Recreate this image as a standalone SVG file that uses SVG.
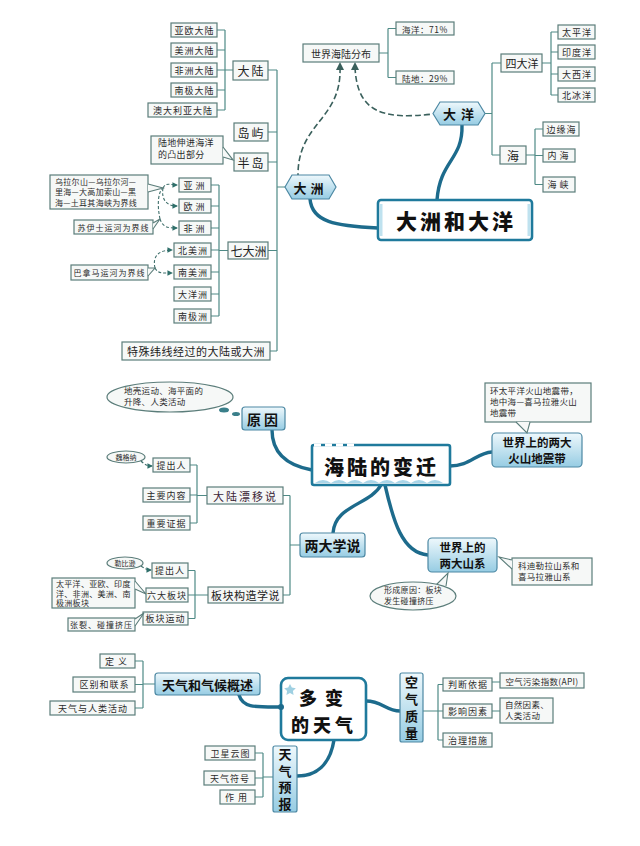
<svg xmlns="http://www.w3.org/2000/svg" width="640" height="846" viewBox="0 0 640 846">
<defs>
<linearGradient id="gb" x1="0" y1="0" x2="0" y2="1">
<stop offset="0" stop-color="#eef8fc"/>
<stop offset="1" stop-color="#96cce3"/>
</linearGradient>
<marker id="ah" viewBox="0 0 6 6" refX="5" refY="3" markerWidth="5" markerHeight="5" orient="auto">
<path d="M0,0 L6,3 L0,6 z" fill="#2f6f6a"/>
</marker>
<style>
.b{fill:#f6f8f7;stroke:#5b7d7a;stroke-width:1.2}
.bl{fill:url(#gb);stroke:#4c88a3;stroke-width:1.2}
.ttl{fill:#fff;stroke:#1f7a9c;stroke-width:2.6}
.t{font-family:"Noto Sans CJK SC","Noto Sans",sans-serif;font-size:9px;fill:#2b2b2b;text-anchor:middle;dominant-baseline:central;letter-spacing:1px}
.s{font-family:"Noto Sans CJK SC","Noto Sans",sans-serif;font-size:8px;fill:#2b2b2b;letter-spacing:0.3px}
.m{font-family:"Noto Sans CJK SC","Noto Sans",sans-serif;font-size:12px;fill:#222;text-anchor:middle;dominant-baseline:central;letter-spacing:2px}
.h{font-family:"Noto Sans CJK SC","Noto Sans",sans-serif;font-size:13px;font-weight:700;fill:#111;text-anchor:middle;dominant-baseline:central}
.v{font-family:"Noto Sans CJK SC","Noto Sans",sans-serif;font-size:13px;font-weight:700;fill:#111;text-anchor:middle;writing-mode:vertical-rl;letter-spacing:3.5px}
.big{font-family:"Noto Sans CJK SC","Noto Sans",sans-serif;font-size:21px;font-weight:900;fill:#111;text-anchor:middle;dominant-baseline:central;letter-spacing:3px}
.ln{fill:none;stroke:#4f8a86;stroke-width:1.2}
.dl{fill:none;stroke:#3f6f6b;stroke-width:1.1;stroke-dasharray:3 2}
.dl2{fill:none;stroke:#3a605c;stroke-width:1.6;stroke-dasharray:6 3}
.th{fill:none;stroke:#1d6b8c;stroke-width:3.4;stroke-linecap:round}
</style>
</defs>
<rect width="640" height="846" fill="#ffffff"/>

<g id="connectors">
<path class="ln" d="M217,30H225M217,50H225M217,70H225M217,90H225M217,110H225M225,30V110M225,70H233"/>
<path class="ln" d="M277,70V351M268,70H277M268,132H277M268,162H277M268,250.5H277M270,351H277M277,187H285"/>
<path class="ln" d="M211,185H219M211,206H219M211,228H219M211,250H219M211,272H219M211,294H219M211,316H219M219,185V316M219,250.5H228"/>
<path class="ln" d="M379,53H388M388,28.5V77.5M388,28.5H396M388,77.5H396"/>
<path class="ln" d="M485,113.5H492M492,63V155M492,63H501M492,155H500"/>
<path class="ln" d="M542,63H551M551,32V95M551,32H558M551,52H558M551,74H558M551,95H558"/>
<path class="ln" d="M526,155H535M535,129V184.5M535,129H543M535,155.5H543M535,184.5H543"/>
<path class="dl2" d="M340,67 C342,120 298,122 298,175"/>
<path class="dl2" d="M355,67 C357,112 382,120 433,114"/>
<path d="M336,70 L340,62 L344,70 z M351,70 L355,62 L359,70 z" fill="#3a605c"/>
<path class="th" d="M310,199 C312,222 335,226 378,228"/>
<path class="th" d="M462,125 C463,160 440,160 437,200"/>
<path class="dl" d="M163,188 C166,182 170,185 177,185" marker-end="url(#ah)"/>
<path class="dl" d="M163,188 C161,200 167,206 177,206" marker-end="url(#ah)"/>
<path class="dl" d="M160,219 C157,205 158,192 163,188"/>
<path class="dl" d="M160,219 C163,228 169,228 177,228" marker-end="url(#ah)"/>
<path class="dl" d="M155,268 C152,255 160,250 172,250" marker-end="url(#ah)"/>
<path class="dl" d="M155,268 C158,274 164,273 172,273" marker-end="url(#ah)"/>

<path class="th" d="M272,430 C272,455 290,466 312,470"/>
<path class="th" d="M450,466 C470,466 476,453 492,452"/>
<path class="th" d="M381,485 C370,505 335,505 333,533"/>
<path class="th" d="M385,485 C393,520 402,553 428,555"/>
<path class="ln" d="M190,465H197M190,495H197M190,523H197M197,465V523M197,495.5H207"/>
<path class="ln" d="M283,495.5H290M290,495.5V595M290,545H300M283,595H290"/>
<path class="ln" d="M188,570.5H195M188,595H195M188,618.5H195M195,570.5V618.5M195,595H208"/>
<path class="dl" d="M141,461 C145,465 148,466 152,466" marker-end="url(#ah)"/>
<path class="dl" d="M141,566 C145,569 148,570 151,570" marker-end="url(#ah)"/>

<path class="ln" d="M135,661H143M135,684.5H143M135,708H143M143,661V708M143,684H155"/>
<path class="th" d="M239,695 C243,708 255,707 281,707"/>
<path class="th" d="M366,701 C382,701 386,711 400,711"/>
<path class="th" d="M334,740 C330,765 316,776 297,776"/>
<path class="ln" d="M255,753H263M255,778H263M255,797H263M263,753V797M263,777H273"/>
<path class="ln" d="M423,711H438M438,684.5V740M438,684.5H443M438,711H443M438,740H443"/>
<path class="ln" d="M492,682H500M492,711H500"/>
</g>

<g id="n-dazhouhedayang">
<rect class="ttl" x="378" y="200" width="154" height="40" rx="3"/>
<path d="M381,204 v32 M529,204 v32" stroke="#bfe2ef" stroke-width="3"/>
<text class="big" x="456" y="220">大洲和大洋</text>
</g>
<g id="n-dazhou">
<polygon class="bl" points="285,187 292,175 329,175 336,187 329,199 292,199"/>
<text class="h" x="310.5" y="187" style="letter-spacing:4px">大洲</text>
</g>
<g id="n-dayang">
<polygon class="bl" points="433,113.5 440,102 478,102 485,113.5 478,125 440,125"/>
<text class="h" x="461" y="113.5" style="letter-spacing:5px">大洋</text>
</g>
<g id="n-dalu"><rect class="b" x="233" y="61" width="35" height="19"/><text class="m" x="251.5" y="70.5">大陆</text></g>
<g id="n-yaoudalu"><rect class="b" x="171" y="23" width="46" height="14"/><text class="t" x="194.5" y="30">亚欧大陆</text></g>
<g id="n-meizhoudalu"><rect class="b" x="171" y="43" width="46" height="14"/><text class="t" x="194.5" y="50">美洲大陆</text></g>
<g id="n-feizhoudalu"><rect class="b" x="171" y="63" width="46" height="14"/><text class="t" x="194.5" y="70">非洲大陆</text></g>
<g id="n-nanjidalu"><rect class="b" x="171" y="83" width="46" height="14"/><text class="t" x="194.5" y="90">南极大陆</text></g>
<g id="n-aodaliyadalu"><rect class="b" x="148" y="103" width="69" height="14"/><text class="t" x="183" y="110">澳大利亚大陆</text></g>
<g id="n-daoyu"><rect class="b" x="234" y="123" width="34" height="18"/><text class="m" x="251.5" y="132">岛屿</text></g>
<g id="n-bandao"><rect class="b" x="234" y="153" width="34" height="18"/><text class="m" x="251.5" y="162">半岛</text></g>
<g id="n-bandao-note">
<rect class="b" x="151" y="136" width="72" height="28"/>
<polyline points="223,147 233,160 223,157" fill="#f6f8f7" stroke="#5b7d7a" stroke-width="1.2"/>
<text class="s" style="font-size:9px"><tspan x="158" y="146">陆地伸进海洋</tspan><tspan x="158" y="158">的凸出部分</tspan></text>
</g>
<g id="n-qidazhou"><rect class="b" x="228" y="242" width="40" height="17"/><text class="m" x="248.5" y="250.5" style="letter-spacing:0">七大洲</text></g>
<g id="n-yazhou"><rect class="b" x="179" y="178" width="32" height="14"/><text class="t" x="195.5" y="185" style="letter-spacing:3px">亚洲</text></g>
<g id="n-ouzhou"><rect class="b" x="179" y="199" width="32" height="14"/><text class="t" x="195.5" y="206" style="letter-spacing:3px">欧洲</text></g>
<g id="n-feizhou"><rect class="b" x="179" y="221" width="32" height="14"/><text class="t" x="195.5" y="228" style="letter-spacing:3px">非洲</text></g>
<g id="n-beimeizhou"><rect class="b" x="174" y="243" width="37" height="14"/><text class="t" x="193" y="250">北美洲</text></g>
<g id="n-nanmeizhou"><rect class="b" x="174" y="265" width="37" height="14"/><text class="t" x="193" y="272">南美洲</text></g>
<g id="n-dayangzhou"><rect class="b" x="174" y="287" width="37" height="14"/><text class="t" x="193" y="294">大洋洲</text></g>
<g id="n-nanjizhou"><rect class="b" x="174" y="309" width="37" height="14"/><text class="t" x="193" y="316">南极洲</text></g>
<g id="n-teshuweixian"><rect class="b" x="122" y="342" width="148" height="18"/><text class="m" x="196" y="351" style="font-size:11px;letter-spacing:0.5px">特殊纬线经过的大陆或大洲</text></g>
<g id="n-ouyajiexian">
<rect class="b" x="50" y="175" width="98" height="34"/>
<polyline points="148,184 163,188 148,192" fill="#f6f8f7" stroke="#5b7d7a" stroke-width="1.1"/>
<text class="s"><tspan x="55" y="184.5">乌拉尔山—乌拉尔河—</tspan><tspan x="55" y="195">里海—大高加索山—黑</tspan><tspan x="55" y="205.5">海—土耳其海峡为界线</tspan></text>
</g>
<g id="n-suyishi">
<rect class="b" x="74" y="220" width="79" height="14"/>
<polyline points="153,223 160,219 153,229" fill="#f6f8f7" stroke="#5b7d7a" stroke-width="1.1"/>
<text class="t" x="113.5" y="227" style="font-size:8px">苏伊士运河为界线</text>
</g>
<g id="n-banama">
<rect class="b" x="71" y="265" width="77" height="15"/>
<polyline points="148,268 155,268 148,276" fill="#f6f8f7" stroke="#5b7d7a" stroke-width="1.1"/>
<text class="t" x="109.5" y="272.5" style="font-size:8px">巴拿马运河为界线</text>
</g>
<g id="n-shijiehailu"><rect class="b" x="303" y="44" width="76" height="18"/><text class="t" x="341" y="53" style="font-size:10px;letter-spacing:0">世界海陆分布</text></g>
<g id="n-haiyang71"><rect class="b" x="396" y="22" width="58" height="13"/><text class="t" x="425" y="28.5" style="font-size:8.5px;letter-spacing:0.5px">海洋：71%</text></g>
<g id="n-ludi29"><rect class="b" x="396" y="71" width="58" height="13"/><text class="t" x="425" y="77.5" style="font-size:8.5px;letter-spacing:0.5px">陆地：29%</text></g>
<g id="n-sidayang"><rect class="b" x="501" y="54" width="41" height="18"/><text class="m" x="522" y="63" style="font-size:11px;letter-spacing:0">四大洋</text></g>
<g id="n-taipingyang"><rect class="b" x="558" y="25" width="37" height="14"/><text class="t" x="577" y="32">太平洋</text></g>
<g id="n-yinduyang"><rect class="b" x="558" y="45" width="37" height="14"/><text class="t" x="577" y="52">印度洋</text></g>
<g id="n-daxiyang"><rect class="b" x="558" y="67" width="37" height="14"/><text class="t" x="577" y="74">大西洋</text></g>
<g id="n-beibingyang"><rect class="b" x="558" y="88" width="37" height="14"/><text class="t" x="577" y="95">北冰洋</text></g>
<g id="n-hai"><rect class="b" x="500" y="146" width="26" height="18"/><text class="m" x="513" y="155" style="letter-spacing:0">海</text></g>
<g id="n-bianyuanhai"><rect class="b" x="543" y="122" width="36" height="14"/><text class="t" x="561.5" y="129">边缘海</text></g>
<g id="n-neihai"><rect class="b" x="543" y="149" width="32" height="13"/><text class="t" x="559.5" y="155.5" style="letter-spacing:3px">内海</text></g>
<g id="n-haixia"><rect class="b" x="543" y="177" width="32" height="15"/><text class="t" x="559.5" y="184.5" style="letter-spacing:3px">海峡</text></g>

<g id="n-hailudebianqian">
<rect class="ttl" x="312" y="445" width="138" height="40" rx="2"/>
<path d="M314,445 H356" stroke="#fff" stroke-width="3" stroke-dasharray="7 4"/>
<path d="M315,483 q8,-6 16,0 q8,-6 16,0 q8,-6 16,0 q8,-6 16,0 q8,-6 16,0 q8,-6 16,0 q8,-6 16,0 q8,-6 16,0 z" fill="#a9d5e8"/>
<text class="big" x="381.5" y="466" style="font-size:20px">海陆的变迁</text>
</g>
<g id="n-yuanyin">
<rect class="bl" x="242" y="407" width="43" height="23" rx="3"/>
<text class="h" x="264" y="418.5" style="font-size:14px;letter-spacing:3px">原因</text>
</g>
<g id="n-yuanyin-note">
<ellipse cx="170" cy="397" rx="63" ry="15" class="b"/>
<ellipse cx="224" cy="410" rx="5" ry="2.5" fill="#3a7f8a"/>
<ellipse cx="236" cy="414" rx="4" ry="2" fill="#3a7f8a"/>
<text class="s" style="font-size:8.5px"><tspan x="124" y="394">地壳运动、海平面的</tspan><tspan x="124" y="405">升降、人类活动</tspan></text>
</g>
<g id="n-huoshandizhendai">
<rect class="bl" x="492" y="433" width="90" height="34" rx="4"/>
<text class="h" style="font-size:11.5px"><tspan x="537" y="442.25">世界上的两大</tspan><tspan x="537" y="457.75">火山地震带</tspan></text>
</g>
<g id="n-huoshan-note">
<rect class="b" x="485" y="383" width="106" height="39"/>
<polyline points="516,422 527,433 530,422" fill="#f6f8f7" stroke="#5b7d7a" stroke-width="1.1"/>
<text class="s" style="font-size:8.5px"><tspan x="490" y="394">环太平洋火山地震带，</tspan><tspan x="490" y="405">地中海—喜马拉雅火山</tspan><tspan x="490" y="416">地震带</tspan></text>
</g>
<g id="n-liangdaxueshuo">
<rect class="bl" x="300" y="533" width="65" height="24" rx="3"/>
<text class="h" x="332.5" y="545" style="font-size:14px">两大学说</text>
</g>
<g id="n-shanxi">
<rect class="bl" x="428" y="538" width="69" height="34" rx="4"/>
<text class="h" style="font-size:11.5px"><tspan x="462.5" y="547.25">世界上的</tspan><tspan x="462.5" y="562.75">两大山系</tspan></text>
</g>
<g id="n-shanxi-note">
<rect class="b" x="512" y="558" width="80" height="27"/>
<polyline points="512,560 499,557 512,569" fill="#f6f8f7" stroke="#5b7d7a" stroke-width="1.1"/>
<text class="s" style="font-size:8.5px"><tspan x="518" y="569">科迪勒拉山系和</tspan><tspan x="518" y="580">喜马拉雅山系</tspan></text>
</g>
<g id="n-shanxi-cause">
<polyline points="436,585 448,573 446,586" fill="#f6f8f7" stroke="#5b7d7a" stroke-width="1.1"/>
<ellipse cx="413" cy="596" rx="43" ry="14" class="b"/>
<text class="s"><tspan x="384" y="593">形成原因：板块</tspan><tspan x="384" y="604">发生碰撞挤压</tspan></text>
</g>
<g id="n-dalupiaoyi"><rect class="b" x="207" y="487" width="76" height="17"/><text class="m" x="245.5" y="495.5" style="font-size:11px;fill:#3b2536">大陆漂移说</text></g>
<g id="n-weigena"><ellipse cx="126" cy="457" rx="19" ry="6" class="b"/><text class="t" x="126" y="457" style="font-size:7px;letter-spacing:0">魏格纳</text></g>
<g id="n-tichuren1"><rect class="b" x="153" y="458" width="37" height="14"/><text class="t" x="171.5" y="465">提出人</text></g>
<g id="n-zhuyaoneirong"><rect class="b" x="143" y="488" width="47" height="14"/><text class="t" x="166.5" y="495">主要内容</text></g>
<g id="n-zhongyaozhengju"><rect class="b" x="143" y="516" width="47" height="14"/><text class="t" x="166.5" y="523">重要证据</text></g>
<g id="n-bankuaigouzao"><rect class="b" x="208" y="587" width="75" height="16"/><text class="m" x="245.5" y="595" style="font-size:11px;letter-spacing:0.5px">板块构造学说</text></g>
<g id="n-lebixun"><ellipse cx="125" cy="563" rx="18" ry="6" class="b"/><text class="t" x="125" y="563" style="font-size:7px;letter-spacing:0">勒比逊</text></g>
<g id="n-tichuren2"><rect class="b" x="152" y="563" width="36" height="15"/><text class="t" x="170" y="570.5">提出人</text></g>
<g id="n-liudabankuai"><rect class="b" x="146" y="588" width="42" height="14"/><text class="t" x="167" y="595">六大板块</text></g>
<g id="n-bankuaiyundong"><rect class="b" x="143" y="612" width="45" height="13"/><text class="t" x="165.5" y="618.5">板块运动</text></g>
<g id="n-liudabankuai-note">
<rect class="b" x="52" y="578" width="83" height="30"/>
<polyline points="135,581 146,594 135,589" fill="#f6f8f7" stroke="#5b7d7a" stroke-width="1.1"/>
<text class="s"><tspan x="56" y="587">太平洋、亚欧、印度</tspan><tspan x="56" y="596.5">洋、非洲、美洲、南</tspan><tspan x="56" y="606">极洲板块</tspan></text>
</g>
<g id="n-zhanglie-note">
<rect class="b" x="68" y="618" width="67" height="13"/>
<polyline points="135,619 144,613 135,626" fill="#f6f8f7" stroke="#5b7d7a" stroke-width="1.1"/>
<text class="t" x="101.5" y="624.5" style="font-size:8px">张裂、碰撞挤压</text>
</g>

<g id="n-duobiandetianqi">
<rect class="ttl" x="281" y="678" width="85" height="62" rx="7"/>
<path d="M290,684 l1.8,3.6 4,0.6 -2.9,2.8 0.7,4 -3.6,-1.9 -3.6,1.9 0.7,-4 -2.9,-2.8 4,-0.6 z" fill="#9fd0e2"/>
<text class="big" style="font-size:18px"><tspan x="325" y="696.5" style="letter-spacing:8px">多变</tspan><tspan x="324" y="723.5" style="letter-spacing:4px">的天气</tspan></text>
<circle cx="281" cy="707" r="3" fill="#1d6b8c"/>
</g>
<g id="n-tianqiheqihou">
<rect class="bl" x="155" y="673" width="105" height="22" rx="3"/>
<text class="h" x="207.5" y="684">天气和气候概述</text>
</g>
<g id="n-dingyi"><rect class="b" x="100" y="654" width="35" height="14"/><text class="t" x="118" y="661" style="letter-spacing:4px">定义</text></g>
<g id="n-qubiehelianxi"><rect class="b" x="73" y="677" width="62" height="15"/><text class="t" x="104.5" y="684.5">区别和联系</text></g>
<g id="n-tianqiyurenlei"><rect class="b" x="50" y="701" width="85" height="14"/><text class="t" x="93" y="708">天气与人类活动</text></g>
<g id="n-tianqiyubao">
<rect class="bl" x="273" y="746" width="24" height="66" rx="2"/>
<text class="v" x="285" y="781">天气预报</text>
</g>
<g id="n-weixingyuntu"><rect class="b" x="205" y="746" width="50" height="14"/><text class="t" x="230.5" y="753">卫星云图</text></g>
<g id="n-tianqifuhao"><rect class="b" x="204" y="771" width="51" height="14"/><text class="t" x="230" y="778">天气符号</text></g>
<g id="n-zuoyong"><rect class="b" x="220" y="790" width="35" height="14"/><text class="t" x="238" y="797" style="letter-spacing:4px">作用</text></g>
<g id="n-kongqizhiliang">
<rect class="bl" x="400" y="673" width="23" height="69" rx="2"/>
<text class="v" x="411.5" y="709.5" style="letter-spacing:4px">空气质量</text>
</g>
<g id="n-panduanyiju"><rect class="b" x="443" y="678" width="49" height="13"/><text class="t" x="468" y="684.5">判断依据</text></g>
<g id="n-yingxiangyinsu"><rect class="b" x="443" y="704" width="49" height="14"/><text class="t" x="468" y="711">影响因素</text></g>
<g id="n-zhilicuoshi"><rect class="b" x="443" y="733" width="49" height="14"/><text class="t" x="468" y="740">治理措施</text></g>
<g id="n-api"><rect class="b" x="500" y="673" width="84" height="15"/><text class="t" x="542" y="680.5" style="font-size:8.5px;letter-spacing:0.3px">空气污染指数(API)</text></g>
<g id="n-ziranyinsu">
<rect class="b" x="500" y="698" width="53" height="25"/>
<text class="s" style="font-size:8.5px"><tspan x="505" y="708">自然因素、</tspan><tspan x="505" y="719">人类活动</tspan></text>
</g>
</svg>
